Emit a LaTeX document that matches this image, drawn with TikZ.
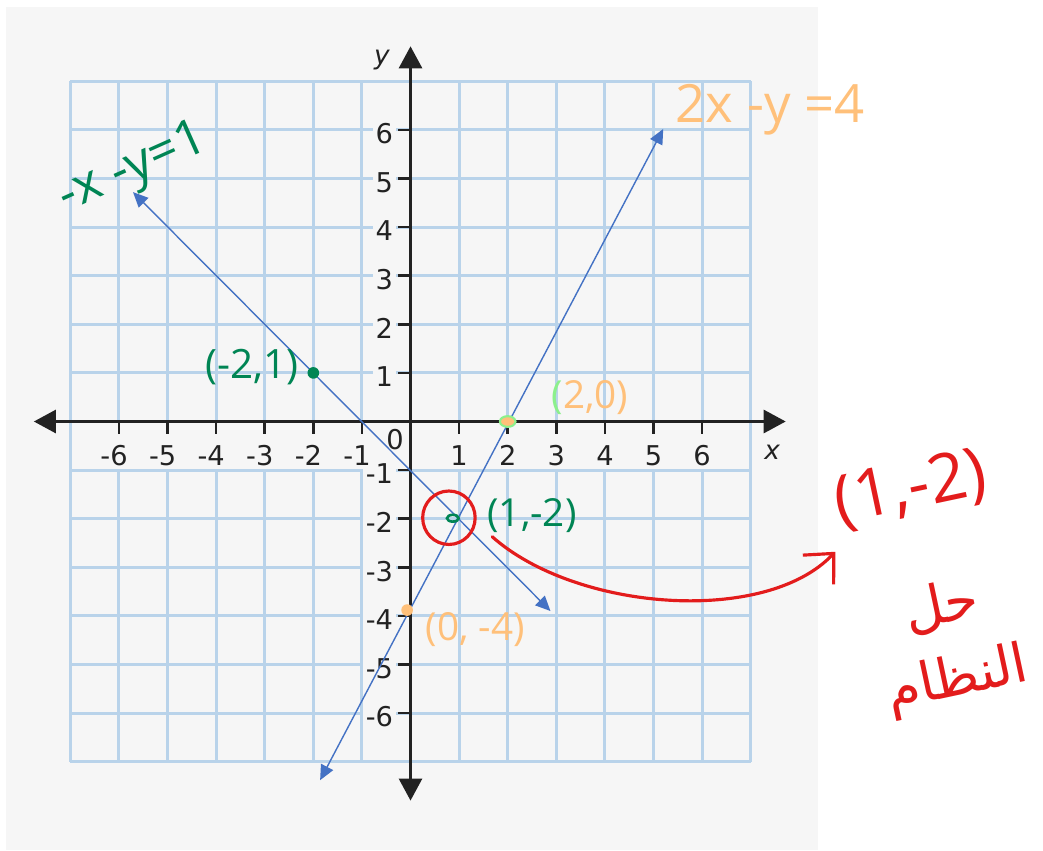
\documentclass[tikz,border=0pt]{standalone}
\usepackage{fontspec}
\setmainfont{DejaVu Sans}
\newfontfamily\hand{Open Sans}
\newfontfamily\arabicfont[Script=Arabic]{DejaVu Sans}
\TeXXeTstate=1
\usetikzlibrary{arrows.meta}
\definecolor{bg}{HTML}{F6F6F6}
\definecolor{gridblue}{HTML}{B9D3EA}
\definecolor{lineblue}{HTML}{4472C4}
\definecolor{hgreen}{HTML}{008554}
\definecolor{horange}{HTML}{FFC07A}
\definecolor{hred}{HTML}{E31C1C}
\definecolor{lgreen}{HTML}{8CF08C}
\definecolor{axisgray}{HTML}{222222}
\begin{document}
\begin{tikzpicture}[x=0.972cm,y=0.972cm,
  gridline/.style={draw=gridblue, line width=1.7pt},
  axisline/.style={draw=axisgray, line width=1.6pt,
     {Triangle[length=0.44cm,width=0.46cm]}-{Triangle[length=0.44cm,width=0.46cm]}},
  tickline/.style={draw=axisgray, line width=1.5pt},
  ticklab/.style={fill=bg, inner sep=1.5pt, text=axisgray, font=\fontsize{15.5}{18}\selectfont},
  axlab/.style={inner sep=0pt, text=axisgray, font=\fontsize{15}{18}\selectfont\itshape},
  blueline/.style={draw=lineblue, line width=0.8pt,
     {Triangle[length=0.3cm,width=0.27cm]}-{Triangle[length=0.3cm,width=0.27cm]}},
  handg/.style={text=hgreen, inner sep=0pt, font=\hand},
  hando/.style={text=horange, inner sep=0pt, font=\hand},
  handr/.style={text=hred, inner sep=0pt, font=\hand},
  redpen/.style={draw=hred, line width=1.8pt, line cap=round},
]
\useasboundingbox (-8.447,-8.817) rectangle (13.014,8.673);
\fill[white] (-8.447,-8.817) rectangle (13.014,8.673);
\fill[bg] (-8.324,-8.807) rectangle (8.385,8.53);

% grid
\foreach \k in {-7,...,7} {
  \draw[gridline] (\k,-7) -- (\k,7);
  \draw[gridline] (-7,\k) -- (7,\k);
}
% label strip under the x axis
\fill[bg] (-6.965,-0.97) rectangle (6.965,-0.03);

% y tick labels
\foreach \k in {1,...,6} {
  \node[ticklab, anchor=east] (ylp\k) at (-0.3,\k-0.08) {\k};
  \node[ticklab, anchor=east] (ylm\k) at (-0.3,-\k-0.08) {-\k};
}
% x tick labels
\foreach \k in {1,...,6} {
  \node[ticklab, fill=none] (xlp\k) at (\k,-0.7) {\k};
  \node[ticklab, fill=none] (xlm\k) at (-\k,-0.7) {\llap{-}\k};
}
\node[ticklab, fill=none] (zero) at (-0.32,-0.38) {0};

% ticks
\foreach \k in {-6,...,-1,1,2,...,6} {
  \draw[tickline] (\k,0) -- (\k,-0.25);
  \draw[tickline] (0,\k) -- (-0.25,\k);
}

% axes
\coordinate (xl) at (-7.75,0);
\coordinate (xr) at (7.72,0);
\coordinate (yb) at (0,-7.8);
\coordinate (yt) at (0,7.72);
\draw[axisline] (xl) -- (xr);
\draw[axisline] (yb) -- (yt);
\node[axlab] (xname) at (7.44,-0.63) {x};
\node[axlab] (yname) at (-0.59,7.44) {y};

% lines
\coordinate (l1a) at (-5.71,4.72);
\coordinate (l1b) at (2.88,-3.90);
\coordinate (l2a) at (-1.86,-7.38);
\coordinate (l2b) at (5.2,6.02);
\draw[blueline] (l1a) -- (l1b);
\draw[blueline] (l2a) -- (l2b);

% handwritten annotations
\node[handg, rotate=24, font=\hand\fontsize{29}{30}\selectfont] (eq1) at (-5.7,5.18) {-x -y=1};
\node[hando, font=\hand\fontsize{30}{32}\selectfont] (eq2) at (7.4,6.42) {2x -y =4};

\fill[hgreen] (-2,1) circle (0.12);
\node[handg, font=\hand\fontsize{23}{25}\selectfont] (pA) at (-3.26,1.12) {(-2,1)};

\filldraw[fill=horange, draw=lgreen, line width=1.2pt] (2,0) ellipse (0.16 and 0.11);
\node[hando, font=\hand\fontsize{22}{24}\selectfont] (pB) at (3.69,0.50) {\textcolor{lgreen}{(}2,0)};

\fill[horange] (-0.07,-3.88) circle (0.12);
\node[hando, font=\hand\fontsize{22}{24}\selectfont] (pC) at (1.33,-4.29) {(0, -4)};

\draw[hgreen, line width=1.5pt] (0.87,-1.99) ellipse (0.12 and 0.07);
\node[handg, font=\hand\fontsize{22}{24}\selectfont] (pD) at (2.50,-1.94) {(1,-2)};
\draw[redpen] (0.79,-1.98) ellipse (0.54 and 0.55);

\coordinate (c0) at (1.68,-2.37);
\coordinate (c3) at (8.74,-2.68);
\draw[redpen, -{Straight Barb[length=0.45cm,width=0.85cm,line width=1.8pt]}]
  (c0) .. controls (3.4,-3.9) and (7.3,-4.2) .. (c3);

\node[handr, rotate=12, font=\hand\fontsize{38}{40}\selectfont] (sol) at (10.3,-1.4) {(1,-2)};
\node[handr, rotate=12, align=center, font=\arabicfont\fontsize{31}{42}\selectfont] (ar) at (11.1,-4.6)
  {\beginR حل\endR\\\beginR النظام\endR};
\end{tikzpicture}
\end{document}
